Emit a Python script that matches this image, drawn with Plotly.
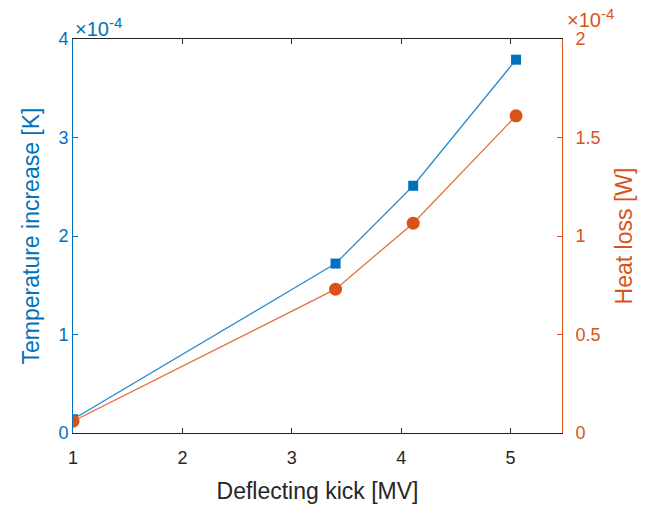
import plotly.graph_objects as go

kick = [1.0, 3.40, 4.11, 5.05]
temp_increase = [0.14e-4, 1.72e-4, 2.51e-4, 3.79e-4]
heat_loss = [0.06e-4, 0.73e-4, 1.065e-4, 1.61e-4]

x_ticks = [1, 2, 3, 4, 5]
x_ticktext = ["1", "2", "3", "4", "5"]
yl_ticks = [0, 1e-4, 2e-4, 3e-4, 4e-4]
yl_ticktext = ["0", "1", "2", "3", "4"]
yr_ticks = [0, 0.5e-4, 1e-4, 1.5e-4, 2e-4]
yr_ticktext = ["0", "0.5", "1", "1.5", "2"]

BLUE = "#0072BD"
ORANGE = "#D95319"
DARK = "#262626"
FONT = "Liberation Sans"

EXP_TEXT = "×10<sup><span style='font-size:15px'>-4</span></sup>"

fig = go.Figure()
fig.add_trace(go.Scatter(x=kick, y=temp_increase, mode="lines+markers",
                         line=dict(color="#2a8bd0", width=1.3),
                         marker=dict(symbol="square", size=10, color=BLUE),
                         yaxis="y", showlegend=False))
fig.add_trace(go.Scatter(x=kick, y=heat_loss, mode="lines+markers",
                         line=dict(color="#e2713f", width=1.3),
                         marker=dict(symbol="circle", size=13, color=ORANGE),
                         yaxis="y2", showlegend=False))

fig.update_layout(
    width=646, height=506,
    margin=dict(l=73, r=84, t=39, b=73, autoexpand=False),
    paper_bgcolor="white", plot_bgcolor="white",
    font=dict(family=FONT, size=18, color=DARK),
    xaxis=dict(range=[1, 5.47], tickvals=x_ticks, ticktext=x_ticktext,
               ticks="inside", ticklen=5, tickcolor=DARK, showline=True,
               linecolor=DARK, linewidth=1, mirror="ticks", showgrid=False,
               zeroline=False, tickfont=dict(size=18, color=DARK),
               ticklabelstandoff=8, automargin=False,
               title=dict(text="Deflecting kick [MV]", font=dict(size=23, color=DARK), standoff=16)),
    yaxis=dict(range=[0, 4e-4], tickvals=yl_ticks, ticktext=yl_ticktext,
               ticks="inside", ticklen=5, tickcolor=BLUE, showline=True,
               linecolor=BLUE, linewidth=1, showgrid=False, zeroline=False,
               tickfont=dict(size=18, color=BLUE), automargin=False,
               title=dict(text="Temperature increase [K]", font=dict(size=23, color=BLUE), standoff=12)),
    yaxis2=dict(range=[0, 2e-4], tickvals=yr_ticks, ticktext=yr_ticktext,
                overlaying="y", side="right",
                ticks="inside", ticklen=5, tickcolor=ORANGE, showline=True,
                linecolor=ORANGE, linewidth=1, showgrid=False, zeroline=False,
                tickfont=dict(size=18, color=ORANGE), ticklabelstandoff=9,
                automargin=False,
                title=dict(text="Heat loss [W]", font=dict(size=23, color=ORANGE), standoff=16)),
    annotations=[
        dict(text=EXP_TEXT, xref="paper", yref="paper", x=0, y=1,
             xanchor="left", yanchor="bottom", xshift=0, yshift=-3, showarrow=False,
             font=dict(size=20, color=BLUE, family=FONT)),
        dict(text=EXP_TEXT, xref="paper", yref="paper", x=1, y=1,
             xanchor="left", yanchor="bottom", xshift=3, yshift=6, showarrow=False,
             font=dict(size=20, color=ORANGE, family=FONT)),
    ],
)

fig.write_html("out.html")
